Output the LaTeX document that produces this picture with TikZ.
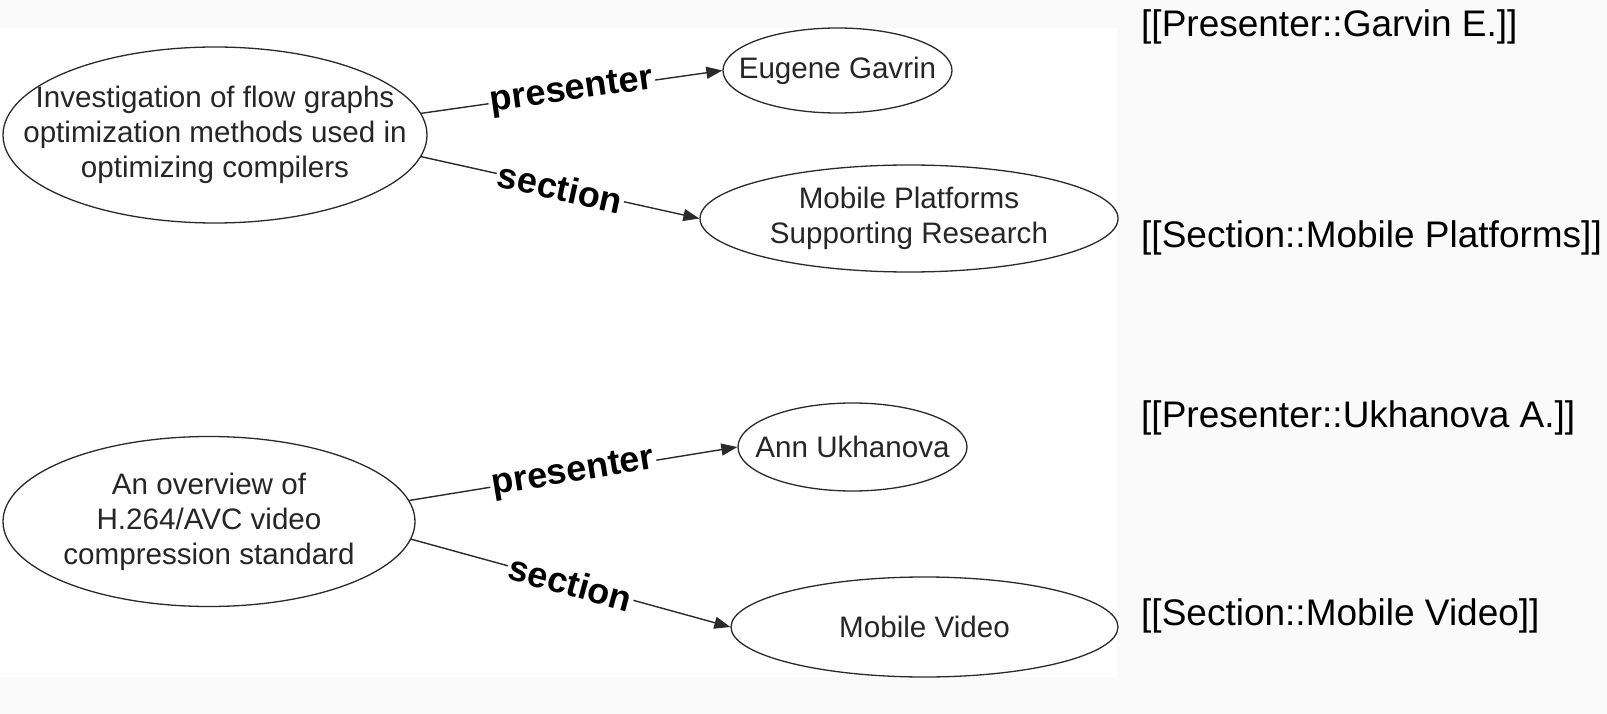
\documentclass[tikz,border=0pt]{standalone}
\usepackage{fontspec}
\setmainfont{Liberation Sans}
\usetikzlibrary{shapes.geometric,arrows.meta}
\definecolor{bgc}{HTML}{FAFAFA}
\definecolor{linec}{HTML}{2A2A2A}
\definecolor{txtc}{HTML}{262626}
\begin{document}
\begin{tikzpicture}[x=1pt,y=-1pt,
  el/.style={ellipse, draw=linec, line width=1.3pt, inner sep=0pt, fill=white},
  eltext/.style={align=center, text=txtc, inner sep=0pt, font=\fontsize{29.6}{35}\selectfont},
  edge/.style={draw=linec, line width=1.4pt, -{Triangle[length=16pt,width=12pt]}},
  elabel/.style={sloped, midway, fill=white, inner sep=2pt, font=\fontsize{36}{40}\selectfont\bfseries, text=black},
  side/.style={anchor=west, inner sep=0pt, font=\fontsize{37}{42}\selectfont, text=black}
]
\useasboundingbox (0,0) rectangle (1607,714);
\fill[bgc] (0,0) rectangle (1607,714);
\fill[white] (0,28) rectangle (1117,677);

% first group
\node[el, minimum width=424pt, minimum height=176pt] (a) at (215,135) {};
\node[eltext] (at) at (a) {Investigation of flow graphs\\optimization methods used in\\optimizing compilers};
\node[el, minimum width=229pt, minimum height=85pt] (b) at (837.5,70.5) {};
\node[eltext] (bt) at (b) {Eugene Gavrin};
\node[el, minimum width=418pt, minimum height=107pt] (c) at (909,218.5) {};
\node[eltext] (ct) at (c) {Mobile Platforms\\Supporting Research};

\draw[edge] (a.6) -- node[elabel] {presenter} (b.west);
\draw[edge] (a.-6) -- node[elabel] {section} (c.west);

% second group
\node[el, minimum width=412pt, minimum height=170pt] (d) at (209,521.5) {};
\node[eltext] (dt) at (d) {An overview of\\H.264/AVC video\\compression standard};
\node[el, minimum width=229pt, minimum height=88pt] (e) at (852.5,447) {};
\node[eltext] (et) at (e) {Ann Ukhanova};
\node[el, minimum width=387pt, minimum height=100pt] (f) at (924.5,627) {};
\node[eltext] (ft) at (f) {Mobile Video};

\draw[edge] (d.6) -- node[elabel] {presenter} (e.west);
\draw[edge] (d.-5) -- node[elabel] {section} (f.west);

% annotations
\node[side] (s1) at (1141,26.5) {[[Presenter::Garvin E.]]};
\node[side] (s2) at (1141,238) {[[Section::Mobile Platforms]]};
\node[side] (s3) at (1141,418) {[[Presenter::Ukhanova A.]]};
\node[side] (s4) at (1141,616) {[[Section::Mobile Video]]};
\end{tikzpicture}
\end{document}
